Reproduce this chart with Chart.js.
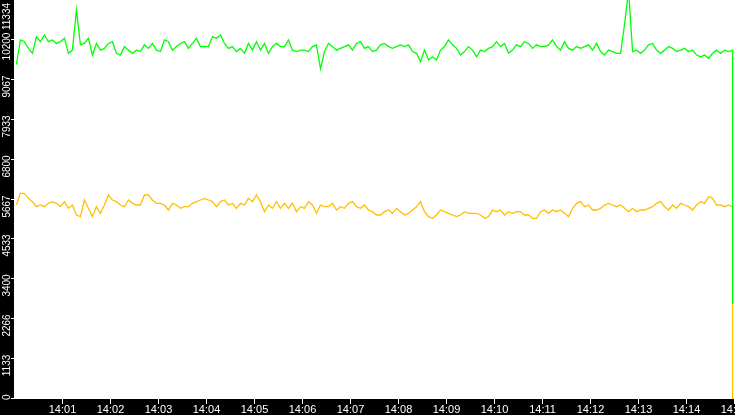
<!DOCTYPE html>
<html>
<head>
<meta charset="utf-8">
<script src="https://cdn.jsdelivr.net/npm/chart.js@4/dist/chart.umd.min.js"></script>
<style>
  html, body { margin: 0; padding: 0; background: #000; overflow: hidden; }
  canvas { display: block; }
</style>
</head>
<body>
<canvas id="chart" width="735" height="415"></canvas>
<script>
// one sample every 5 s starting at 14:00:03; the last reading (the drop) shares the final timestamp
const firstSecond = 3;
const sampleStep = 5;

const greenValues = [
  9500, 10200, 10150, 9960, 9820, 10290, 10150, 10340, 10150, 10200,
  10100, 10150, 10250, 9820, 9910, 11050, 10060, 10100, 10250, 9770,
  10100, 9910, 9960, 10100, 10150, 9820, 9770, 10010, 9910, 9820,
  9910, 9870, 10060, 9960, 10100, 9910, 9870, 10200, 10150, 9910,
  10010, 10100, 10150, 9960, 10100, 10250, 10010, 10010, 10010, 10290,
  10250, 10340, 10100, 9960, 10010, 9870, 9960, 9820, 10100, 9910,
  10150, 9910, 10100, 9820, 10010, 10100, 10010, 10010, 10200, 9910,
  9870, 9910, 9910, 9870, 10010, 10060, 9380, 9870, 10100, 10010,
  9910, 9960, 10010, 10060, 9910, 10100, 10150, 9960, 10010, 9870,
  9910, 10060, 10100, 10010, 9960, 10010, 10060, 10010, 10060, 9870,
  9820, 9580, 9910, 9630, 9720, 9630, 9910, 10010, 10200, 10060,
  9960, 9770, 9870, 10010, 9910, 9720, 9910, 9870, 9960, 10010,
  10150, 10010, 10100, 9820, 9910, 10060, 10010, 10150, 10100, 9960,
  10060, 10010, 10010, 10060, 10200, 10010, 9910, 10150, 9960, 9910,
  10010, 9960, 10010, 10060, 9910, 10100, 9870, 9770, 9910, 9870,
  9820, 9820, 10650, 11600, 9870, 9910, 9820, 9910, 10060, 10100,
  9910, 9820, 9910, 10010, 9960, 9870, 9910, 9960, 9870, 9910,
  9770, 9720, 9770, 9680, 9820, 9910, 9820, 9910, 9870, 9910,
  2700
];

const orangeValues = [
  5511, 5840, 5840, 5700, 5606, 5463, 5511, 5463, 5558, 5606,
  5558, 5463, 5606, 5416, 5511, 5227, 5180, 5653, 5416, 5180,
  5463, 5274, 5511, 5795, 5653, 5606, 5511, 5463, 5653, 5558,
  5511, 5511, 5795, 5795, 5653, 5558, 5558, 5511, 5369, 5558,
  5511, 5416, 5463, 5463, 5558, 5606, 5653, 5700, 5653, 5606,
  5463, 5606, 5653, 5511, 5558, 5416, 5558, 5511, 5700, 5606,
  5795, 5606, 5321, 5511, 5416, 5606, 5416, 5558, 5416, 5558,
  5321, 5463, 5416, 5606, 5511, 5274, 5511, 5463, 5463, 5558,
  5369, 5463, 5416, 5558, 5606, 5463, 5416, 5511, 5369, 5321,
  5227, 5227, 5321, 5369, 5274, 5416, 5321, 5227, 5274, 5369,
  5463, 5606, 5321, 5180, 5132, 5227, 5369, 5321, 5274, 5227,
  5180, 5227, 5321, 5274, 5274, 5274, 5227, 5132, 5180, 5369,
  5321, 5369, 5227, 5321, 5274, 5321, 5321, 5227, 5227, 5132,
  5132, 5321, 5369, 5274, 5369, 5321, 5369, 5274, 5180, 5416,
  5558, 5606, 5463, 5511, 5369, 5369, 5416, 5511, 5558, 5511,
  5463, 5511, 5416, 5321, 5416, 5321, 5369, 5369, 5416, 5463,
  5558, 5606, 5463, 5369, 5511, 5416, 5558, 5511, 5463, 5369,
  5511, 5606, 5558, 5748, 5700, 5511, 5511, 5463, 5511, 5463,
  0
];

const yMax = 11334;
const yTickValues = [0, 1133, 2266, 3400, 4533, 5667, 6800, 7933, 9067, 10200, 11334];
const yTickLabels = ['0', '1133', '2266', '3400', '4533', '5667', '6800', '7933', '9067', '10200', '11334'];

const xTickSeconds = [60, 120, 180, 240, 300, 360, 420, 480, 540, 600, 660, 720, 780, 840, 900];
const xTickLabels = ['14:01', '14:02', '14:03', '14:04', '14:05', '14:06', '14:07', '14:08',
  '14:09', '14:10', '14:11', '14:12', '14:13', '14:14', '14:15'];

function toPoints(values) {
  const last = values.length - 1;
  return values.map((v, i) => ({
    x: firstSecond + Math.min(i, last - 1) * sampleStep,
    y: v
  }));
}

const frame = {
  id: 'frame',
  beforeDraw(chart) {
    const { ctx, chartArea: a } = chart;
    ctx.save();
    ctx.fillStyle = '#000';
    ctx.fillRect(0, 0, chart.width, chart.height);
    ctx.fillStyle = '#fff';
    ctx.fillRect(a.left, a.top, a.right - a.left, a.bottom - a.top);
    ctx.restore();
  },
  afterDraw(chart) {
    const { ctx, chartArea: a, scales: { x, y } } = chart;
    ctx.save();
    ctx.fillStyle = '#fff';

    // y axis: small marks and rotated labels
    ctx.font = '10px "Liberation Sans", Arial, sans-serif';
    ctx.textAlign = 'center';
    ctx.textBaseline = 'alphabetic';
    yTickValues.forEach((v, i) => {
      const py = Math.round(y.getPixelForValue(v));
      ctx.fillRect(a.left - 3, py - 1, 4, 1);
      const w = ctx.measureText(yTickLabels[i]).width;
      let c = py + 6.5;
      if (c - w / 2 < 3) c = 3 + w / 2;
      if (c + w / 2 > a.bottom + 1) c = a.bottom + 1 - w / 2;
      ctx.save();
      ctx.translate(10, c);
      ctx.rotate(-Math.PI / 2);
      ctx.fillText(yTickLabels[i], 0, 0);
      ctx.restore();
    });

    // x axis: marks and time labels
    ctx.font = '11px "Liberation Sans", Arial, sans-serif';
    xTickSeconds.forEach((s, i) => {
      const px = Math.round(x.getPixelForValue(s));
      ctx.fillRect(px, a.bottom, 1, 5);
      ctx.fillText(xTickLabels[i], px + 0.5, a.bottom + 14);
    });
    ctx.restore();
  }
};

new Chart(document.getElementById('chart').getContext('2d'), {
  type: 'line',
  data: {
    datasets: [
      { data: toPoints(greenValues), borderColor: '#00ff00', borderWidth: 1.3, pointRadius: 0, tension: 0 },
      { data: toPoints(orangeValues), borderColor: '#ffc000', borderWidth: 1.3, pointRadius: 0, tension: 0 }
    ]
  },
  options: {
    responsive: false,
    animation: false,
    layout: { padding: 0 },
    plugins: { legend: { display: false }, tooltip: { enabled: false } },
    scales: {
      x: {
        type: 'linear', min: 0, max: 901,
        ticks: { display: false }, grid: { display: false }, border: { display: false },
        afterFit(s) { s.height = 16; }
      },
      y: {
        min: 0, max: yMax,
        ticks: { display: false }, grid: { display: false }, border: { display: false },
        afterFit(s) { s.width = 14; }
      }
    }
  },
  plugins: [frame]
});
</script>
</body>
</html>
